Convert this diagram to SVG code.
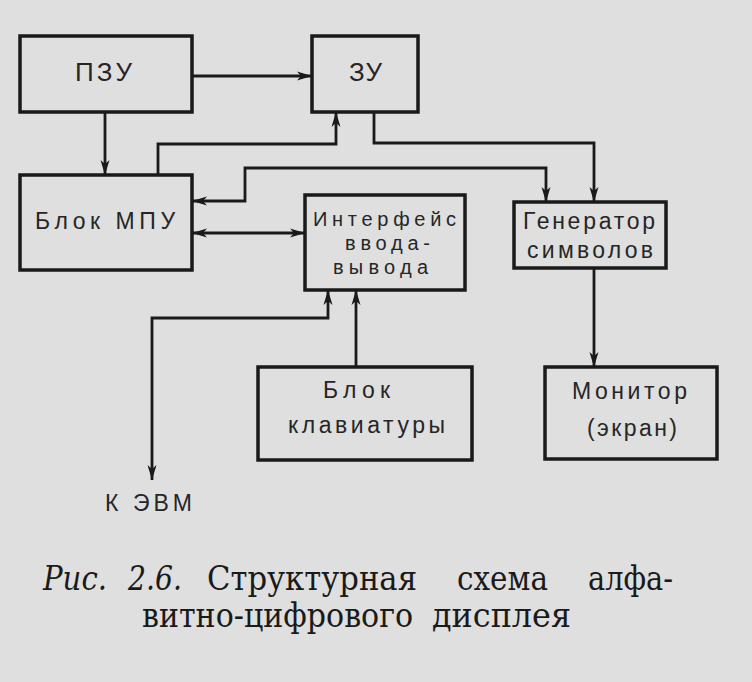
<svg xmlns="http://www.w3.org/2000/svg" width="752" height="682" viewBox="0 0 752 682">
<defs>
<style>
.bg{fill:#dfdfdf}
.box{fill:#dfdfdf;stroke:#1a1a1a;stroke-width:3.5}
.lbl{font-family:"Liberation Sans",Arial,sans-serif;font-size:23px;fill:#262626}
.big{font-size:26px}
.sm{font-size:20px}
.conn{fill:none;stroke:#1a1a1a;stroke-width:2.8}
.cap{font-family:"DejaVu Serif","Liberation Serif",serif;font-size:33px;fill:#1a1a1a}
.it{font-style:italic}
</style>
<marker id="ah" markerUnits="userSpaceOnUse" markerWidth="16" markerHeight="12" refX="15" refY="5" orient="auto-start-reverse" viewBox="0 0 16 10">
<path d="M0,0.5 L15,5 L0,9.5 L4,5 Z" fill="#1a1a1a"/>
</marker>
</defs>
<rect class="bg" x="0" y="0" width="752" height="682"/>

<g id="connectors">
<path class="conn" d="M192,76 H312" marker-end="url(#ah)"/>
<path class="conn" d="M105,112 V175" marker-end="url(#ah)"/>
<path class="conn" d="M158,175 V144 H336 V112" marker-end="url(#ah)"/>
<path class="conn" d="M374,112 V143 H594 V202" marker-end="url(#ah)"/>
<path class="conn" d="M192,201 H245 V168 H546 V202" marker-start="url(#ah)" marker-end="url(#ah)"/>
<path class="conn" d="M192,233 H305" marker-start="url(#ah)" marker-end="url(#ah)"/>
<path class="conn" d="M152,480 V318 H328 V290" marker-start="url(#ah)" marker-end="url(#ah)"/>
<path class="conn" d="M356,367 V290" marker-end="url(#ah)"/>
<path class="conn" d="M594,268 V367" marker-end="url(#ah)"/>
</g>

<g id="pzu">
<rect class="box" x="20" y="36" width="172" height="76"/>
<text class="lbl big" x="75" y="81" textLength="57" lengthAdjust="spacing">ПЗУ</text>
</g>
<g id="zu">
<rect class="box" x="312" y="36" width="106" height="76"/>
<text class="lbl big" x="349" y="81" textLength="33" lengthAdjust="spacing">ЗУ</text>
</g>
<g id="mpu">
<rect class="box" x="20" y="175" width="172" height="95"/>
<text class="lbl" x="35" y="229" textLength="140" lengthAdjust="spacing">Блок МПУ</text>
</g>
<g id="interface">
<rect class="box" x="305" y="195" width="160" height="95"/>
<text class="lbl sm" x="313" y="226" textLength="143" lengthAdjust="spacing">Интерфейс</text>
<text class="lbl sm" x="345" y="250" textLength="85" lengthAdjust="spacing">ввода-</text>
<text class="lbl sm" x="333" y="274" textLength="95" lengthAdjust="spacing">вывода</text>
</g>
<g id="generator">
<rect class="box" x="514" y="202" width="152" height="66"/>
<text class="lbl" x="523" y="229" textLength="132" lengthAdjust="spacing">Генератор</text>
<text class="lbl" x="527" y="258" textLength="126" lengthAdjust="spacing">символов</text>
</g>
<g id="keyboard">
<rect class="box" x="258" y="367" width="214" height="93"/>
<text class="lbl" x="323" y="398" textLength="67" lengthAdjust="spacing">Блок</text>
<text class="lbl" x="288" y="433" textLength="157" lengthAdjust="spacing">клавиатуры</text>
</g>
<g id="monitor">
<rect class="box" x="545" y="367" width="172" height="92"/>
<text class="lbl" x="572" y="399" textLength="115" lengthAdjust="spacing">Монитор</text>
<text class="lbl" x="587" y="436" textLength="90" lengthAdjust="spacing">(экран)</text>
</g>
<g id="evm">
<text class="lbl" x="105" y="511" textLength="87" lengthAdjust="spacing">К ЭВМ</text>
</g>

<g id="caption">
<text class="cap it" x="43" y="590" textLength="64" lengthAdjust="spacingAndGlyphs">Рис.</text>
<text class="cap it" x="128" y="590" textLength="54" lengthAdjust="spacingAndGlyphs">2.6.</text>
<text class="cap" x="207" y="590" textLength="210" lengthAdjust="spacingAndGlyphs">Структурная</text>
<text class="cap" x="457" y="590" textLength="91" lengthAdjust="spacingAndGlyphs">схема</text>
<text class="cap" x="588" y="590" textLength="85" lengthAdjust="spacingAndGlyphs">алфа-</text>
<text class="cap" x="142" y="627" textLength="271" lengthAdjust="spacingAndGlyphs">витно-цифрового</text>
<text class="cap" x="432" y="627" textLength="139" lengthAdjust="spacingAndGlyphs">дисплея</text>
</g>
</svg>
